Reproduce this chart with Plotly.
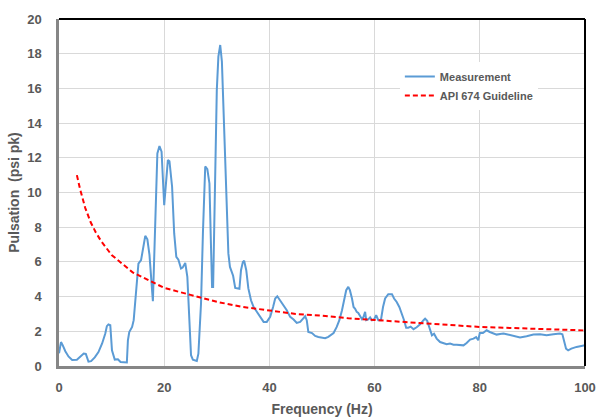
import plotly.graph_objects as go

meas_freq = [0.0, 0.38, 0.7, 1.2, 1.8, 2.5, 3.4, 4.0, 4.7, 5.1, 5.6, 6.1, 6.8, 7.5, 8.2, 8.8, 9.1, 9.4, 9.75,
             10.07, 10.6, 11.2, 11.7, 12.9, 13.1, 13.36, 13.9, 14.2, 14.6, 15.1, 15.6, 15.9, 16.4, 16.8, 17.2,
             17.85, 18.3, 18.7, 19.1, 19.5, 20.0, 20.4, 20.7, 21.0, 21.5, 21.9, 22.3, 22.7, 23.2, 23.5, 24.0,
             24.4, 24.8, 25.1, 25.45, 26.2, 26.5, 27.0, 27.36, 27.8, 28.2, 28.6, 28.9, 29.1, 29.3, 29.7, 30.0,
             30.3, 30.65, 30.97, 31.3, 31.8, 32.2, 32.5, 33.1, 33.5, 34.3, 34.6, 34.96, 35.2, 35.6, 36.0, 36.5,
             37.0, 37.6, 38.25, 38.9, 39.5, 40.15, 40.7, 41.1, 41.5, 42.05, 42.7, 43.3, 43.95, 44.6, 45.2,
             45.85, 46.4, 46.8, 47.1, 47.4, 48.1, 48.7, 49.3, 49.9, 50.6, 51.2, 51.55, 52.2, 52.8, 53.3, 53.8,
             54.2, 54.6, 55.0, 55.3, 55.7, 56.0, 56.3, 56.6, 56.9, 57.25, 57.6, 57.9, 58.2, 58.4, 58.8, 59.15,
             59.5, 59.9, 60.3, 60.7, 61.2, 61.6, 62.0, 62.6, 63.3, 63.7, 64.2, 64.7, 65.2, 65.6, 66.0, 66.4,
             66.85, 67.4, 68.0, 68.65, 69.3, 69.6, 70.0, 70.4, 70.9, 71.3, 71.8, 72.45, 73.1, 73.7, 74.35,
             75.0, 75.6, 76.25, 76.9, 77.5, 78.15, 78.8, 79.3, 79.7, 80.0, 80.6, 81.3, 81.9, 82.6, 83.2,
             83.85, 84.5, 85.1, 86.4, 87.65, 88.9, 90.2, 91.45, 92.7, 94.0, 95.25, 95.7, 96.0, 96.4, 96.8,
             97.4, 98.4, 99.0, 100.0]
meas_psi = [0.73, 1.38, 1.2, 0.85, 0.55, 0.35, 0.36, 0.55, 0.72, 0.7, 0.25, 0.28, 0.5, 0.8, 1.3, 1.87, 2.3, 2.4,
            2.35, 0.9, 0.37, 0.39, 0.23, 0.2, 1.48, 1.96, 2.25, 2.64, 4.18, 5.9, 6.1, 6.7, 7.5, 7.3, 6.4,
            3.73, 8.0, 12.25, 12.68, 12.35, 9.27, 11.1, 11.87, 11.8, 10.33, 7.64, 6.29, 6.13, 5.62, 5.67, 5.94,
            5.14, 2.83, 0.62, 0.37, 0.29, 0.71, 3.6, 7.64, 11.5, 11.35, 10.52, 6.87, 4.56, 4.56, 10.33, 15.9,
            17.83, 18.5, 17.54, 14.18, 9.17, 6.49, 5.71, 5.2, 4.5, 4.45, 5.52, 6.0, 6.07, 5.52, 4.47, 3.79,
            3.4, 3.12, 2.83, 2.54, 2.54, 2.83, 3.4, 3.89, 4.02, 3.79, 3.5, 3.21, 2.83, 2.68, 2.48,
            2.54, 2.73, 2.87, 2.64, 1.96, 1.9, 1.73, 1.67, 1.64, 1.6, 1.68, 1.77, 1.9, 2.25, 2.64, 3.21,
            3.89, 4.37, 4.56, 4.37, 3.89, 3.4, 3.3, 3.12, 3.06, 2.83, 2.7, 2.83, 3.12, 2.64, 2.68, 2.8,
            2.64, 2.68, 2.93, 2.64, 2.64, 3.4, 3.89, 4.14, 4.14, 3.89, 3.69, 3.4, 3.02, 2.64, 2.21, 2.21,
            2.27, 2.12, 2.23, 2.4, 2.64, 2.73, 2.6, 2.16, 1.77, 1.86, 1.58, 1.38, 1.33, 1.25, 1.29,
            1.23, 1.23, 1.19, 1.19, 1.33, 1.52, 1.58, 1.67, 1.48, 1.9, 1.9, 2.06, 1.96, 1.87, 1.81,
            1.85, 1.87, 1.83, 1.71, 1.64, 1.71, 1.81, 1.83, 1.77, 1.83, 1.87, 1.83, 1.48, 1.0, 0.9,
            1.0, 1.1, 1.14, 1.19]

# API 674 guideline
api_freq = [3.4, 4, 5, 6, 7, 8, 9, 10, 12, 14, 16, 18, 20, 25, 30, 35, 40, 45, 50, 55, 60, 65, 70, 75,
            80, 85, 90, 95, 100]
api_psi = [11.0, 10.2, 9.1, 8.3, 7.7, 7.2, 6.8, 6.4, 5.9, 5.4, 5.1, 4.8, 4.5, 4.1, 3.7, 3.4, 3.2, 3.0,
           2.9, 2.75, 2.65, 2.55, 2.45, 2.35, 2.25, 2.2, 2.15, 2.1, 2.05]

x_ticks = [0, 20, 40, 60, 80, 100]
y_ticks = [0, 2, 4, 6, 8, 10, 12, 14, 16, 18, 20]

FONT = "Liberation Sans"
GREY = "#595959"

fig = go.Figure()
fig.add_trace(go.Scatter(x=meas_freq, y=meas_psi, mode="lines", name="Measurement",
                         line=dict(color="#5B9BD5", width=2)))
fig.add_trace(go.Scatter(x=api_freq, y=api_psi, mode="lines", name="API 674 Guideline",
                         line=dict(color="#FF0000", width=2, dash="5px,3px")))

fig.update_layout(
    width=600, height=419,
    margin=dict(l=59, r=15, t=19, b=53),
    paper_bgcolor="white", plot_bgcolor="white",
    font=dict(family=FONT, color=GREY),
    legend=dict(x=0.648, y=0.807, xanchor="left", yanchor="middle",
                bgcolor="white", font=dict(size=11, color=GREY, family=FONT, weight="bold"),
                itemwidth=30),
    xaxis=dict(range=[0, 100], tickvals=x_ticks, ticktext=[str(t) for t in x_ticks],
               showgrid=True, gridcolor="#D9D9D9", gridwidth=1, automargin=False,
               showline=True, linecolor="#868686", linewidth=2.5, zeroline=False,
               ticks="", ticklabelstandoff=8,
               tickfont=dict(size=13, color=GREY, family=FONT, weight="bold"),
               title=dict(text="Frequency (Hz)", standoff=10,
                          font=dict(size=14, color=GREY, family=FONT, weight="bold"))),
    yaxis=dict(range=[0, 20], tickvals=y_ticks, ticktext=[str(t) for t in y_ticks],
               showgrid=True, gridcolor="#D9D9D9", gridwidth=1, automargin=False,
               showline=True, linecolor="#868686", linewidth=2.5, zeroline=False,
               ticks="", ticklabelstandoff=12,
               tickfont=dict(size=13, color=GREY, family=FONT, weight="bold"),
               title=dict(text="Pulsation  (psi pk)", standoff=5,
                          font=dict(size=14, color=GREY, family=FONT, weight="bold"))),
    shapes=[
        dict(type="line", xref="paper", yref="paper", x0=0, x1=1, y0=1, y1=1,
             line=dict(color="black", width=2)),
        dict(type="line", xref="paper", yref="paper", x0=1, x1=1, y0=0, y1=1,
             line=dict(color="black", width=2)),
    ],
)

fig.write_html("out.html", config={"displayModeBar": False},
               post_script="document.body.style.margin='0';document.body.style.padding='0';")
